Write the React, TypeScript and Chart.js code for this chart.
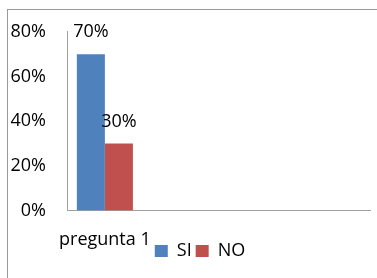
import React, { useEffect, useRef } from "react";
import { Chart, registerables } from "chart.js";

Chart.register(...registerables);

const categories = ["pregunta 1", "", "", ""];
const siValues = [70, null, null, null];
const noValues = [30, null, null, null];
const seriesNames = ["SI", "NO"];
const yTicks = [0, 20, 40, 60, 80];

const FONT = "'Open Sans', 'Noto Sans', sans-serif";

const dataLabelPlugin = {
  id: "dataLabels",
  afterDatasetsDraw(chart: any) {
    const ctx = chart.ctx;
    ctx.save();
    ctx.font = `18px ${FONT}`;
    ctx.fillStyle = "#000";
    ctx.textAlign = "center";
    ctx.textBaseline = "middle";
    chart.data.datasets.forEach((ds: any, di: number) => {
      const meta = chart.getDatasetMeta(di);
      meta.data.forEach((el: any, i: number) => {
        const v = ds.data[i];
        if (v === null || v === undefined) return;
        ctx.fillText(v + "%", el.x, el.y - 22);
      });
    });
    ctx.restore();
  },
};

// place the legend where the reference has it (slightly overlapping the category label band)
const legendPlacePlugin = {
  id: "legendPlace",
  afterLayout(chart: any) {
    const l = chart.legend;
    if (!l) return;
    const h = l.bottom - l.top;
    l.top = 238;
    l.bottom = 238 + h;
    l.left = 15;
    l.right = 385;
  },
};

export default function App() {
  const ref = useRef<HTMLCanvasElement | null>(null);
  useEffect(() => {
    if (!ref.current) return;
    const chart = new Chart(ref.current, {
      type: "bar",
      data: {
        labels: categories,
        datasets: [
          {
            label: seriesNames[0],
            data: siValues,
            backgroundColor: "#4f81bd",
            categoryPercentage: 0.74,
            barPercentage: 1,
          },
          {
            label: seriesNames[1],
            data: noValues,
            backgroundColor: "#c0504d",
            categoryPercentage: 0.74,
            barPercentage: 1,
          },
        ],
      },
      options: {
        responsive: false,
        animation: false,
        devicePixelRatio: 1,
        layout: { padding: { left: 0, right: 7, top: 28, bottom: -24 } },
        plugins: {
          tooltip: { enabled: false },
          legend: {
            position: "bottom",
            align: "center",
            labels: {
              font: { family: FONT, size: 18 },
              color: "#000",
              boxWidth: 13,
              boxHeight: 12,
              padding: 4,
            },
          },
        },
        scales: {
          x: {
            grid: { display: false, drawTicks: false },
            border: { display: true, color: "#a0a0a0", width: 1 },
            ticks: {
              font: { family: FONT, size: 18 },
              color: "#000",
              padding: 19,
              maxRotation: 0,
              minRotation: 0,
              autoSkip: false,
            },
          },
          y: {
            min: 0,
            max: 80,
            grid: { display: false, drawTicks: false },
            border: { display: true, color: "#a0a0a0", width: 1 },
            afterBuildTicks(scale: any) {
              scale.ticks = yTicks.map((v) => ({ value: v }));
            },
            ticks: {
              stepSize: 20,
              font: { family: FONT, size: 18 },
              color: "#000",
              padding: 21,
              callback: (v: any) => v + "%",
            },
            afterFit(scale: any) {
              scale.width = 67;
            },
          },
        },
      },
      plugins: [dataLabelPlugin, legendPlacePlugin],
    });
    return () => chart.destroy();
  }, []);

  return (
    <div
      style={{
        position: "absolute",
        left: 0,
        top: 0,
        width: 377,
        height: 278,
        background: "#fff",
        overflow: "hidden",
      }}
    >
      <div style={{ position: "absolute", left: 7, top: 9, width: 370, height: 1, background: "#999" }} />
      <div style={{ position: "absolute", left: 7, top: 9, width: 1, height: 269, background: "#999" }} />
      <canvas
        ref={ref}
        width={377}
        height={278}
        style={{ position: "absolute", left: 0, top: 0, width: 377, height: 278 }}
      />
    </div>
  );
}
